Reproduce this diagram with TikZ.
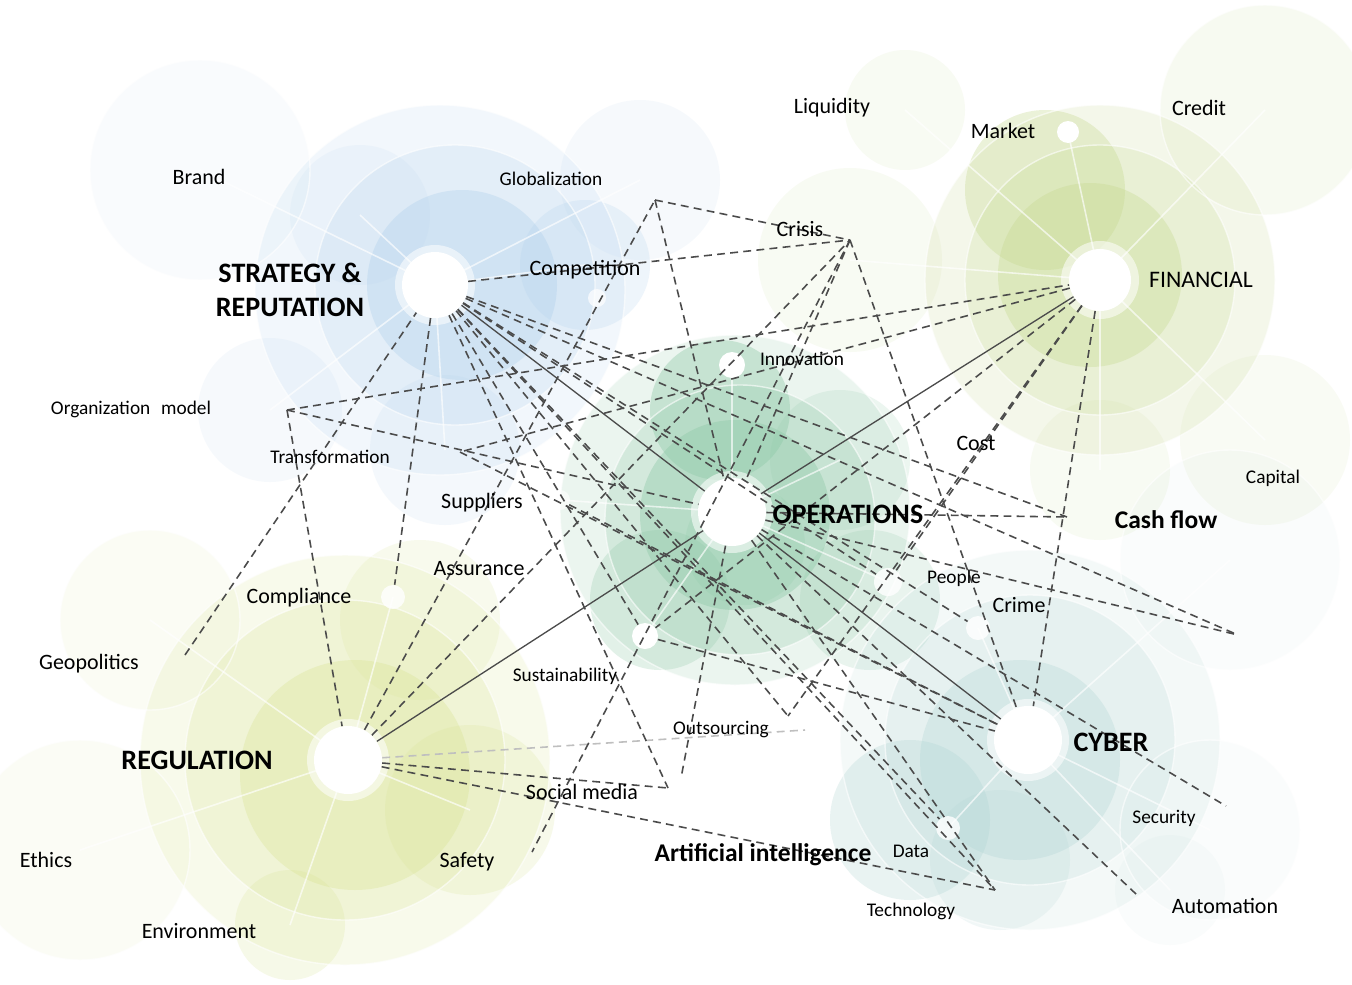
\documentclass[tikz,border=0pt]{standalone}
\usepackage{fontspec}
\setmainfont{Carlito}
\definecolor{sblue}{RGB}{170,205,235}
\definecolor{fgreen}{RGB}{196,216,140}
\definecolor{ogreen}{RGB}{140,200,165}
\definecolor{ryel}{RGB}{214,226,140}
\definecolor{cteal}{RGB}{170,210,208}
\definecolor{dash}{RGB}{75,75,75}
\newdimen\pxu \pxu=0.02cm
\begin{document}
\begin{tikzpicture}[x=0.02cm,y=-0.02cm,
  hub/.style={circle,fill=white,draw=none,minimum size=66\pxu,inner sep=0},
  dot/.style={circle,fill=white,draw=none,minimum size=22\pxu,inner sep=0},
  dl/.style={draw=dash,line width=0.9pt,dash pattern=on 4.5pt off 3pt},
  dlight/.style={draw=black!25,line width=0.9pt,dash pattern=on 4.5pt off 3pt},
  sl/.style={draw=dash,line width=0.75pt},
  spoke/.style={draw=white,line width=0.9pt,opacity=0.65},
  lbl/.style={inner sep=0,font=\fontsize{12.5}{14}\selectfont},
  sm/.style={inner sep=0,font=\fontsize{11}{13}\selectfont},
  bl/.style={inner sep=0,font=\fontsize{14.5}{16}\selectfont\bfseries},
  big/.style={inner sep=0,align=center,font=\fontsize{16}{19}\selectfont\bfseries},
]
\useasboundingbox (0,0) rectangle (1352,984);
\fill[white] (0,0) rectangle (1352,984);

% soft background discs around each group
\foreach \cx/\cy/\r/\c/\o in {
  % strategy & reputation
  440/290/185/sblue/0.15, 455/285/140/sblue/0.2, 462/285/95/sblue/0.32,
  200/170/110/sblue/0.07, 640/180/80/sblue/0.1, 585/265/65/sblue/0.2,
  270/410/72/sblue/0.1, 445/450/75/sblue/0.13, 360/215/70/sblue/0.1,
  % financial
  1100/280/175/fgreen/0.18, 1100/280/135/fgreen/0.22, 1090/275/92/fgreen/0.33,
  1045/190/80/fgreen/0.33, 905/110/60/fgreen/0.1, 1265/110/105/fgreen/0.12,
  1265/440/85/fgreen/0.09, 850/260/92/fgreen/0.1, 1100/470/70/fgreen/0.1,
  % operations
  735/510/175/ogreen/0.17, 740/520/135/ogreen/0.25, 735/515/95/ogreen/0.38,
  745/545/60/ogreen/0.2,
  720/410/70/ogreen/0.38, 660/600/70/ogreen/0.25, 840/460/70/ogreen/0.16,
  870/600/70/ogreen/0.19,
  % regulation
  345/760/205/ryel/0.17, 345/760/160/ryel/0.22, 355/775/115/ryel/0.3,
  150/620/90/ryel/0.09, 80/850/110/ryel/0.08, 290/925/55/ryel/0.2,
  470/810/85/ryel/0.18, 420/620/80/ryel/0.15,
  % cyber
  1030/740/190/cteal/0.13, 1030/740/145/cteal/0.18, 1020/760/100/cteal/0.28,
  910/820/80/cteal/0.26, 1230/560/110/cteal/0.06, 1210/830/90/cteal/0.06,
  1170/890/55/cteal/0.06, 1000/860/70/cteal/0.16}
  \fill[\c,fill opacity=\o] (\cx,\cy) circle[radius=\r\pxu];

% fine white rims on the discs
\foreach \cx/\cy/\r in {440/290/185,455/285/140,1100/280/175,1100/280/135,
  735/510/175,740/520/135,345/760/205,345/760/160,1030/740/190,1030/740/145,
  200/170/110,1265/110/105,1230/560/110,80/850/110,1210/830/90,150/620/90}
  \draw[white,line width=0.8pt,opacity=0.6] (\cx,\cy) circle[radius=\r\pxu];

% white spokes from each hub to its satellites
\foreach \ax/\ay/\bx/\by in {
  435/285/200/170, 435/285/640/180, 435/285/585/265, 435/285/270/410, 435/285/445/450, 435/285/360/215,
  1100/280/1068/132, 1100/280/905/110, 1100/280/1265/110, 1100/280/1265/440, 1100/280/850/260, 1100/280/1100/470,
  732/512/732/365, 732/512/645/636, 732/512/560/500, 732/512/888/582, 732/512/840/460,
  348/760/150/620, 348/760/80/850, 348/760/290/925, 348/760/470/810, 348/760/393/597,
  1028/740/948/828, 1028/740/1230/560, 1028/740/1210/830, 1028/740/1170/890, 1028/740/978/628}
  \draw[spoke] (\ax,\ay) -- (\bx,\by);

% hubs and satellite points
\fill[white,opacity=0.55] (435,285) circle[radius=40\pxu];
\fill[white,opacity=0.55] (1100,280) circle[radius=39\pxu];
\fill[white,opacity=0.55] (732,512) circle[radius=41\pxu];
\fill[white,opacity=0.55] (348,760) circle[radius=41\pxu];
\fill[white,opacity=0.55] (1028,740) circle[radius=41\pxu];
\node[hub] (S) at (435,285) {};
\node[hub,minimum size=62\pxu] (F) at (1100,280) {};
\node[hub,minimum size=68\pxu] (O) at (732,512) {};
\node[hub,minimum size=68\pxu] (R) at (348,760) {};
\node[hub,minimum size=68\pxu] (C) at (1028,740) {};

\node[dot] (mk) at (1068,132) {};
\node[dot,minimum size=26\pxu] (inn) at (732,365) {};
\node[dot,minimum size=18\pxu,opacity=0.7] (co) at (597,298) {};
\node[dot,minimum size=20\pxu,opacity=0.6] (sp) at (560,500) {};
\node[dot,minimum size=24\pxu,opacity=0.8] (cd) at (393,597) {};
\node[dot,minimum size=26\pxu] (su) at (645,636) {};
\node[dot,minimum size=28\pxu,opacity=0.8] (pe) at (888,582) {};
\node[dot,minimum size=24\pxu,opacity=0.8] (cr) at (978,628) {};
\node[dot,minimum size=24\pxu,opacity=0.8] (da) at (948,828) {};

% free ends of the dashed connectors
\coordinate (gv) at (655,200);
\coordinate (cv) at (850,240);
\coordinate (om) at (287,410);
\coordinate (trv) at (460,452);
\coordinate (gp) at (185,655);
\coordinate (cf) at (1067,517);
\coordinate (re) at (1238,635);
\coordinate (se) at (1226,806);
\coordinate (ae) at (1136,894);
\coordinate (te) at (995,890);
\coordinate (sa) at (532,852);
\coordinate (sm1) at (668,788);
\coordinate (sm2) at (681,778);
\coordinate (ou) at (788,716);
\coordinate (oue) at (805,730);

% solid links between the hubs
\draw[sl] (S) -- (O);
\draw[sl] (O) -- (C);
\draw[sl] (R) -- (O);
\draw[sl] (O) -- (F);

% dashed web
\draw[dlight] (R) -- (oue);
\foreach \a/\b in {
  S/cv, gv/cv, om/F, om/O, om/R, gp/S, S/cd, R/gv, R/cv, R/sm1, R/te,
  cv/sa, cv/C, cv/O, gv/O, S/cf, S/re, O/re, O/se, O/ae, O/te, S/te,
  S/da, S/ou, S/sm1, O/sm2, S/su, S/pe, S/cr, F/trv, F/C, F/ou, F/pe,
  F/su, O/cf, su/C, trv/C, sp/C}
  \draw[dl] (\a) -- (\b);

% labels
\node[lbl] (l-brand) at (199,177) {Brand};
\node[sm] (l-glob) at (551,179) {Globalization};
\node[lbl] (l-liq) at (832,108) {Liquidity};
\node[lbl] (l-mkt) at (1003,131) {Market};
\node[lbl] (l-cred) at (1199,108) {Credit};
\node[big] (l-str) at (290,290) {STRATEGY \&\\REPUTATION};
\node[lbl] (l-comp) at (585,270) {Competition};
\node[lbl] (l-cris) at (800,229) {Crisis};
\node[inner sep=0,font=\fontsize{13.5}{15}\selectfont] (l-fin) at (1201,280) {FINANCIAL};
\node[sm] (l-inn) at (802,359) {Innovation};
\node[sm] (l-org) at (131,409) {Organization\,\, model};
\node[sm] (l-tra) at (330,457) {Transformation};
\node[lbl] (l-cost) at (976,443) {Cost};
\node[lbl] (l-sup) at (482,503) {Suppliers};
\node[big] (l-ops) at (848,514) {OPERATIONS};
\node[bl] (l-cash) at (1166,520) {Cash flow};
\node[sm] (l-cap) at (1273,478) {Capital};
\node[lbl] (l-ass) at (479,569) {Assurance};
\node[sm] (l-peo) at (954,578) {People};
\node[lbl] (l-cri) at (1019,605) {Crime};
\node[lbl] (l-cpl) at (299,598) {Compliance};
\node[lbl] (l-geo) at (89,664) {Geopolitics};
\node[sm] (l-sus) at (565,676) {Sustainability};
\node[sm] (l-out) at (721,730) {Outsourcing};
\node[big] (l-reg) at (197,760) {REGULATION};
\node[big] (l-cyb) at (1111,742) {CYBER};
\node[lbl] (l-soc) at (582,792) {Social media};
\node[sm] (l-sec) at (1164,818) {Security};
\node[lbl] (l-eth) at (46,860) {Ethics};
\node[lbl] (l-saf) at (467,862) {Safety};
\node[bl] (l-ai) at (763,855) {Artificial intelligence};
\node[sm] (l-dat) at (911,851) {Data};
\node[sm] (l-tec) at (911,911) {Technology};
\node[lbl] (l-aut) at (1225,906) {Automation};
\node[lbl] (l-env) at (199,931) {Environment};
\end{tikzpicture}
\end{document}
